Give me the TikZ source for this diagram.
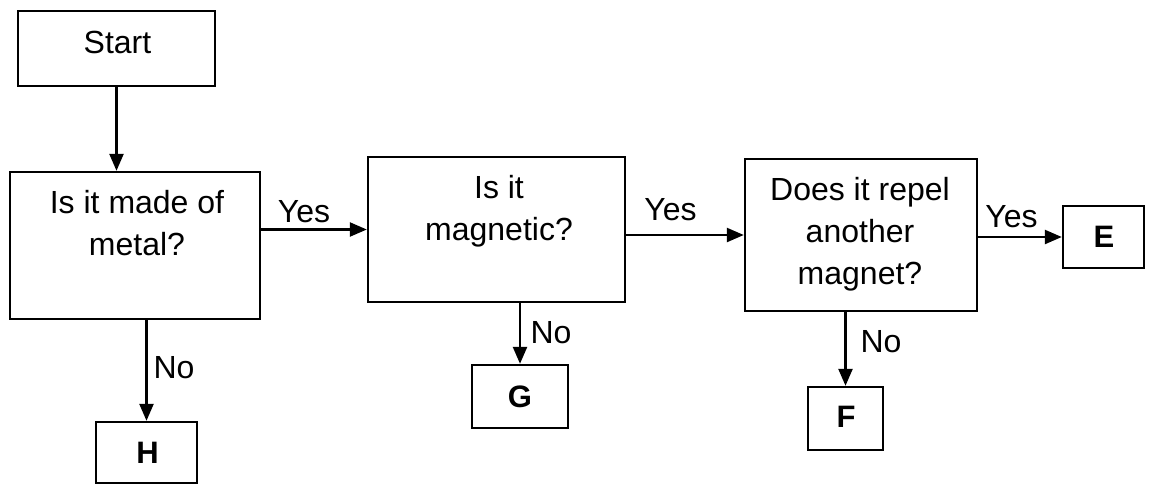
\documentclass[tikz,border=0pt]{standalone}
\usepackage{fontspec}
\setmainfont{Liberation Sans}
\usetikzlibrary{arrows.meta}
\begin{document}
\begin{tikzpicture}[x=1pt,y=-1pt,
  box/.style={draw, line width=2.4pt, inner sep=0pt},
  arr/.style={line width=2.4pt, -{Triangle[length=17pt,width=14pt]}},
  txt/.style={font=\fontsize{32}{42}\selectfont, inner sep=0pt, align=center},
  lbl/.style={font=\fontsize{32}{42}\selectfont, inner sep=0pt, anchor=base},
  letter/.style={font=\fontsize{31}{42}\selectfont\bfseries, inner sep=0pt, anchor=base}]
\useasboundingbox (0,0) rectangle (1152,485);
% boxes
\node[box, minimum width=197pt, minimum height=75pt] (start) at (116.5,48.5) {};
\node[box, minimum width=250pt, minimum height=147pt] (q1) at (135,245.5) {};
\node[box, minimum width=257pt, minimum height=145pt] (q2) at (496.5,229.5) {};
\node[box, minimum width=232pt, minimum height=152pt] (q3) at (861,235) {};
\node[box, minimum width=81pt, minimum height=62pt] (E) at (1103.5,237) {};
\node[box, minimum width=101pt, minimum height=61pt] (H) at (146.5,452.5) {};
\node[box, minimum width=96pt, minimum height=63pt] (G) at (520,396.5) {};
\node[box, minimum width=75pt, minimum height=63pt] (F) at (845.5,418.5) {};
% texts
\node[lbl] (tstart) at (117.5,53) {Start};
\node[txt, anchor=north] (tq1) at (137,183.6) {\strut Is it made of\\metal?};
\node[txt, anchor=north] (tq2) at (499,168.6) {\strut Is it\\magnetic?};
\node[txt, anchor=north] (tq3) at (860,170.6) {\strut Does it repel\\another\\magnet?};
\node[letter] (tE) at (1104,247) {E};
\node[letter] (tH) at (147.5,463) {H};
\node[letter] (tG) at (520,407) {G};
\node[letter] (tF) at (846,427) {F};
% connectors
\draw[arr] (start.south) -- (start.south |- q1.north);
\draw[arr] (q1.east |- q2.west) -- (q2.west);
\draw[arr] (q2.east |- q3.west) -- (q3.west);
\draw[arr] (q3.east |- E.west) -- (E.west);
\draw[arr] (q1.south -| H.north) -- (H.north);
\draw[arr] (q2.south -| G.north) -- (G.north);
\draw[arr] (q3.south -| F.north) -- (F.north);
% edge labels
\node[lbl] (y1) at (304,222) {Yes};
\node[lbl] (y2) at (670.5,220) {Yes};
\node[lbl] (y3) at (1011.5,227) {Yes};
\node[lbl] (n1) at (174,378) {No};
\node[lbl] (n2) at (551,343) {No};
\node[lbl] (n3) at (881,352) {No};
\end{tikzpicture}
\end{document}
